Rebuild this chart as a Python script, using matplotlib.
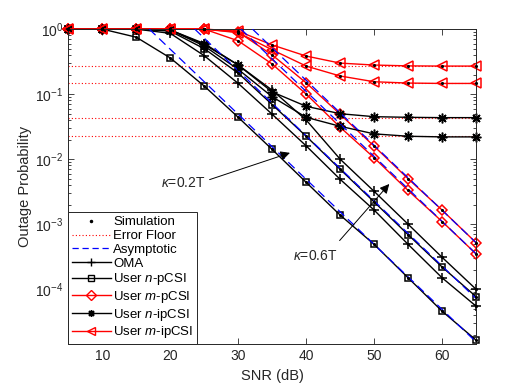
import matplotlib
matplotlib.use('Agg')
import matplotlib.pyplot as plt
from matplotlib.lines import Line2D

plt.rcParams['font.family'] = ['Liberation Sans', 'DejaVu Sans']
plt.rcParams['mathtext.fontset'] = 'custom'
plt.rcParams['mathtext.rm'] = 'Liberation Sans'
plt.rcParams['mathtext.it'] = 'Liberation Sans:italic'
plt.rcParams['font.size'] = 10

snr = [5, 10, 15, 20, 25, 30, 35, 40, 45, 50, 55, 60, 65]

oma_1 = [1, 1, 1, 0.97, 0.58, 0.28, 0.115, 0.040, 0.010, 3.2e-3, 1.0e-3, 3.1e-4, 1.0e-4]
oma_2 = [1, 1, 1, 0.86, 0.39, 0.146, 0.049, 0.016, 4.9e-3, 1.65e-3, 4.9e-4, 1.5e-4, 5.5e-5]
npcsi_1 = [1, 1, 0.75, 0.36, 0.133, 0.044, 0.0141, 0.0044, 1.38e-3, 4.9e-4, 1.5e-4, 4.6e-5, 1.65e-5]
npcsi_2 = [1, 1, 1, 0.93, 0.50, 0.21, 0.069, 0.0225, 7.0e-3, 2.2e-3, 6.9e-4, 2.2e-4, 7.7e-5]
mpcsi_1 = [1, 1, 1, 1, 1, 0.90, 0.40, 0.149, 0.049, 0.0158, 5.0e-3, 1.65e-3, 5.2e-4]
mpcsi_2 = [1, 1, 1, 1, 1, 0.66, 0.29, 0.10, 0.031, 0.0105, 3.3e-3, 1.1e-3, 3.5e-4]
nipcsi_1 = [1, 1, 1, 0.97, 0.60, 0.28, 0.108, 0.065, 0.050, 0.045, 0.044, 0.0435, 0.0435]
nipcsi_2 = [1, 1, 1, 0.97, 0.55, 0.24, 0.091, 0.044, 0.032, 0.0245, 0.0225, 0.022, 0.022]
mipcsi_1 = [1, 1, 1, 1, 1, 0.93, 0.57, 0.385, 0.30, 0.28, 0.272, 0.27, 0.27]
mipcsi_2 = [1, 1, 1, 1, 1, 0.88, 0.48, 0.27, 0.19, 0.155, 0.148, 0.146, 0.146]

floors = [0.272, 0.146, 0.0437, 0.0224]

# asymptote end points (snr, value)
asym_snr = [[16.9, 65], [23.6, 65], [30.4, 65], [32.1, 65]]
asym_val = [[1, 1.55e-5], [1, 7.2e-5], [1, 3.5e-4], [1, 5.2e-4]]

fig = plt.figure(figsize=(5.26, 3.88), dpi=100)
ax = fig.add_axes([0.130, 0.113, 0.775, 0.812])

for f in floors:
    ax.plot([5, 65], [f, f], color='red', lw=0.8, ls=(0, (1, 2)), zorder=1)

curves = [
    (oma_1, 'k', '+', 7), (oma_2, 'k', '+', 7),
    (npcsi_1, 'k', 's', 5), (npcsi_2, 'k', 's', 5),
    (mpcsi_1, 'red', 'D', 5.5), (mpcsi_2, 'red', 'D', 5.5),
    (nipcsi_1, 'k', (8, 2, 0), 7), (nipcsi_2, 'k', (8, 2, 0), 7),
    (mipcsi_1, 'red', '<', 7.5), (mipcsi_2, 'red', '<', 7.5),
]
for y, c, m, ms in curves:
    ax.plot(snr, y, color=c, lw=1.0, marker=m, ms=ms, mfc='none', mec=c,
            mew=1.1, zorder=2, clip_on=False)

for xs, ys in zip(asym_snr, asym_val):
    ax.plot(xs, ys, color='blue', lw=0.9, dashes=(7, 4), zorder=3)

for y, c, m, ms in curves:
    ax.plot(snr, y, ls='none', marker='.', ms=2.5, color='k', zorder=4, clip_on=False)

ax.set_yscale('log')
ax.set_xlim(5, 65)
ax.set_ylim(1.43e-5, 1)
ax.set_xticks([10, 20, 30, 40, 50, 60])
ax.tick_params(which='both', direction='in', top=True, right=True, colors='0.15',
               labelcolor='0.15', width=0.6)
ax.tick_params(which='major', length=4)
ax.tick_params(which='minor', length=2)
for s in ax.spines.values():
    s.set_color('0.15')
    s.set_linewidth(0.7)
ax.set_xlabel('SNR (dB)', color='0.15', fontsize=10.5)
ax.set_ylabel('Outage Probability', color='0.15', fontsize=10.5, labelpad=2)

arrow = dict(arrowstyle='-|>', color='k', lw=0.7, mutation_scale=14)
ax.annotate('', xy=(38.0, 0.0129), xytext=(25.4, 0.0047), arrowprops=arrow)
ax.text(25.2, 0.0043, r'$\kappa$=0.2T', ha='right', va='center', color='0.15')
ax.annotate('', xy=(52.5, 4.47e-3), xytext=(44.65, 5.2e-4), arrowprops=arrow)
ax.text(44.6, 3.3e-4, r'$\kappa$=0.6T', ha='right', va='center', color='0.15')

handles = [
    Line2D([], [], ls='none', marker='.', ms=3, color='k'),
    Line2D([], [], color='red', lw=0.8, ls=(0, (1, 2))),
    Line2D([], [], color='blue', lw=0.9, dashes=(5, 3)),
    Line2D([], [], color='k', lw=1, marker='+', ms=6),
    Line2D([], [], color='k', lw=1, marker='s', ms=4, mfc='none'),
    Line2D([], [], color='red', lw=1, marker='D', ms=5, mfc='none'),
    Line2D([], [], color='k', lw=1, marker=(8, 2, 0), ms=5),
    Line2D([], [], color='red', lw=1, marker='<', ms=6, mfc='none'),
]
labels = ['Simulation', 'Error Floor', 'Asymptotic', 'OMA',
          r'User $n$-pCSI', r'User $m$-pCSI', r'User $n$-ipCSI', r'User $m$-ipCSI']
leg = ax.legend(handles, labels, loc='lower left', borderaxespad=0, fancybox=False,
                framealpha=1, edgecolor='0.15', handlelength=2.9, handletextpad=0.2,
                labelspacing=0.12, borderpad=0.3, fontsize=9.5)
leg.get_frame().set_linewidth(0.7)

fig.savefig('out.png', dpi=100)
